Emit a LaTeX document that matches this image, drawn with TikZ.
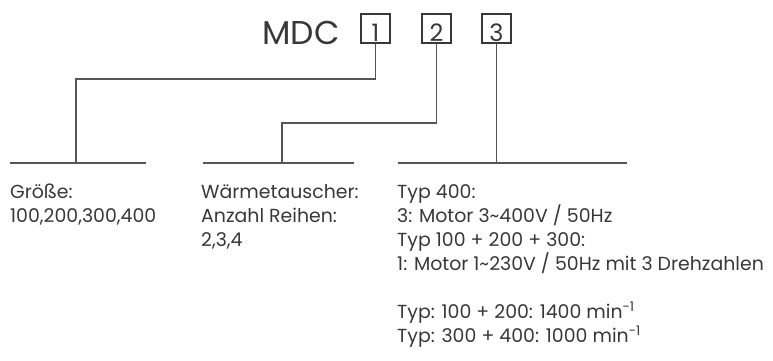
\documentclass[tikz,border=0pt]{standalone}
\usepackage{fontspec}
\setmainfont{Poppins}
\usepackage{xcolor}
\definecolor{inkgray}{HTML}{383838}
\definecolor{linegray}{HTML}{555555}

\begin{document}
\begin{tikzpicture}[
    x=1pt, y=-1pt,
    digitbox/.style={draw=inkgray, line width=1.3pt, minimum width=29pt, inner xsep=0pt, inner ysep=0.5pt, text height=27pt, text depth=1pt, text=inkgray, font=\fontsize{24}{24}\selectfont},
    wire/.style={draw=linegray, line width=1.4pt},
    info/.style={anchor=base west, align=left, inner sep=0pt, text=inkgray, font=\fontsize{18.9}{24}\selectfont}
]
\useasboundingbox (0,0) rectangle (773,361);

% Type code
\node[anchor=base east, inner sep=0pt, text=inkgray, font=\fontsize{33}{33}\selectfont] (mdc) at (340,45) {MDC};
\node[digitbox] (b1) at (375.5,28.5) {1};
\node[digitbox] (b2) at (436.5,28.5) {2};
\node[digitbox] (b3) at (496.5,28.5) {3};

% Bars under the descriptions
\coordinate (bar1w) at (10,163);  \coordinate (bar1e) at (146,163);
\coordinate (bar2w) at (203,163); \coordinate (bar2e) at (354,163);
\coordinate (bar3w) at (398,163); \coordinate (bar3e) at (627,163);
\draw[wire] (bar1w) -- (bar1e);
\draw[wire] (bar2w) -- (bar2e);
\draw[wire] (bar3w) -- (bar3e);

% Connectors from the boxes
\coordinate (k1) at (76,79);  \coordinate (t1) at (76,163);
\coordinate (k2) at (282,123); \coordinate (t2) at (282,163);
\draw[wire] (b1.south) |- (k1) -- (t1);
\draw[wire] (b2.south) |- (k2) -- (t2);
\draw[wire] (b3.south) -- (b3.south |- bar3w);

% Descriptions (anchored at the baseline of the last line)
\node[info] (size) at (10,222) {Größe:\\100,200,300,400};
\node[info] (coil) at (201,246) {Wärmetauscher:\\Anzahl Reihen:\\2,3,4};
\node[info] (motor) at (397,342) {Typ 400:\\3: Motor 3\textasciitilde400V / 50Hz\\Typ 100 + 200 + 300:\\1: Motor 1\textasciitilde230V / 50Hz mit 3 Drehzahlen\\[24pt]Typ: 100 + 200: 1400 min\textsuperscript{-1}\\Typ: 300 + 400: 1000 min\textsuperscript{-1}};

\end{tikzpicture}
\end{document}
